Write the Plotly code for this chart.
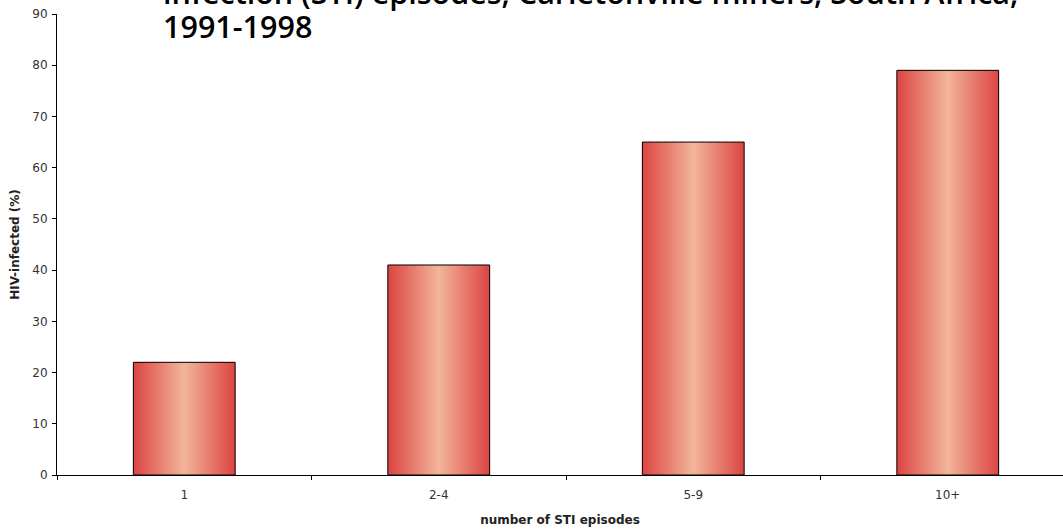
import plotly.graph_objects as go

categories = ["1", "2-4", "5-9", "10+"]
hiv_pct = [22, 41, 65, 79]
y_ticks = [0, 10, 20, 30, 40, 50, 60, 70, 80, 90]

title_upper = "HIV prevalence by number of sexually transmitted<br>infection (STI) episodes, Carletonville miners, South Africa,"
title_last = "1991-1998"

W, H = 1063, 530
left, top, bottom = 57, 14, 55
cat_px = 254.5
x_hi = -0.5 + (W - left) / cat_px

edge = (220, 70, 68)
center = (242, 180, 154)
N = 40
bar_w = 0.4

fig = go.Figure()
for k in range(N):
    t = k / (N - 1)
    c = tuple(round(edge[j] + (center[j] - edge[j]) * t) for j in range(3))
    w = bar_w * (1 - k / N)
    fig.add_trace(go.Bar(
        x=categories, y=hiv_pct, width=w,
        marker=dict(color="rgb(%d,%d,%d)" % c, line=dict(width=0)),
        hoverinfo="skip", showlegend=False,
    ))
fig.add_trace(go.Bar(
    x=categories, y=hiv_pct, width=bar_w,
    marker=dict(color="rgba(0,0,0,0)", line=dict(color="black", width=1)),
    showlegend=False,
))

tick_font = dict(family="DejaVu Sans", size=12, color="#333")
title_font = dict(family="DejaVu Sans", size=12, color="#222")
fig.update_layout(
    width=W, height=H,
    barmode="overlay",
    plot_bgcolor="white", paper_bgcolor="white",
    margin=dict(l=left, r=0, t=top, b=bottom),
    font=dict(family="DejaVu Sans", size=12, color="#222"),
    xaxis=dict(
        type="category", range=[-0.5, x_hi],
        showline=True, linecolor="black", linewidth=1,
        ticks="outside", tickson="boundaries", ticklen=4, tickcolor="black",
        showgrid=False, zeroline=False,
        tickfont=tick_font, ticklabelstandoff=9,
        title=dict(text="<b>number of STI episodes</b>", standoff=14,
                   font=title_font),
    ),
    yaxis=dict(
        range=[0, 90], tickvals=y_ticks,
        showline=True, linecolor="black", linewidth=1,
        ticks="outside", ticklen=4, tickcolor="black",
        showgrid=False, zeroline=False,
        tickfont=tick_font, ticklabelstandoff=2,
        title=dict(text="<b>HIV-infected (%)</b>", standoff=10,
                   font=title_font),
    ),
)

plot_h = H - top - bottom
def py(px):
    return (H - bottom - px) / plot_h

def px_x(px):
    return (px - left) / (W - left)

fig.add_annotation(
    text=title_upper, xref="paper", yref="paper",
    x=px_x(161), y=py(15), xanchor="left", yanchor="bottom", align="left",
    showarrow=False,
    font=dict(family="Open Sans", size=30.5, color="black", weight=600),
)
fig.add_annotation(
    text=title_last, xref="paper", yref="paper",
    x=px_x(161), y=py(49), xanchor="left", yanchor="bottom", align="left",
    showarrow=False,
    font=dict(family="Open Sans", size=30.5, color="black", weight=600),
)

fig.write_html(
    "out.html",
    config={"displayModeBar": False},
    post_script="document.body.style.margin='0';document.body.style.overflow='hidden';",
)
